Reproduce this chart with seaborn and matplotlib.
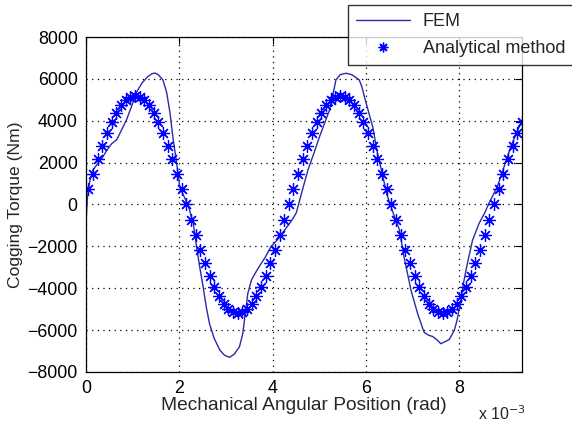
import numpy as np
import pandas as pd
import matplotlib
matplotlib.use("Agg")
import matplotlib.pyplot as plt
from matplotlib.lines import Line2D
import seaborn as sns

sns.set_theme(style="white")
plt.rcParams["font.family"] = ["Liberation Sans", "DejaVu Sans"]

# FEM curve, angle in units of 1e-3 rad
fem_x = [0, 0.03, 0.08, 0.15, 0.25, 0.34, 0.45, 0.55, 0.66, 0.75, 0.87, 0.98,
         1.08, 1.2, 1.32, 1.42, 1.48, 1.55, 1.65, 1.73, 1.8, 1.87, 1.95, 2.01,
         2.1, 2.2, 2.3, 2.37, 2.44, 2.51, 2.58, 2.65, 2.75, 2.87, 2.97, 3.08,
         3.18, 3.29, 3.36, 3.40, 3.47, 3.55, 3.65, 3.72, 3.85, 3.97, 4.1, 4.2,
         4.3, 4.4, 4.51, 4.63, 4.76, 4.88, 5.01, 5.12, 5.22, 5.30, 5.36, 5.45,
         5.58, 5.70, 5.80, 5.86, 5.92, 5.97, 6.05, 6.15, 6.25, 6.35, 6.45, 6.57,
         6.72, 6.82, 6.97, 7.11, 7.25, 7.35, 7.43, 7.52, 7.61, 7.70, 7.79, 7.90,
         7.96, 8.04, 8.10, 8.18, 8.29, 8.43, 8.55, 8.64, 8.82, 8.95, 9.1, 9.2,
         9.33]
fem_y = [-900, 300, 1100, 1650, 1950, 2200, 2600, 2900, 3100, 3500, 4050, 4700,
         5350, 5800, 6100, 6250, 6280, 6200, 5950, 5350, 4400, 3100, 1900, 850,
         400, -100, -900, -2000, -3000, -3900, -4900, -5700, -6400, -6950, -7200, -7300,
         -7150, -6800, -6200, -5500, -4250, -3600, -3200, -2950, -2500, -2000, -1700, -1400,
         -1100, -800, -400, 600, 1650, 2400, 3250, 3900, 4500, 5300, 5950, 6200,
         6270, 6200, 6050, 5950, 5600, 5150, 4500, 3700, 2450, 1500, 500, -300,
         -1200, -2500, -4100, -5200, -6100, -6250, -6300, -6450, -6650, -6550, -6450, -6000,
         -5500, -4550, -3700, -2800, -1700, -900, -400, 50, 850, 1700, 2700, 3250,
         3900]

# analytical method, one point every 0.1e-3 rad starting at 0.05e-3
ana_x = [round(0.05 + 0.1 * k, 2) for k in range(94)]
ana_y = [740, 1470, 2160, 2810, 3400, 3930, 4380, 4730, 4990, 5150, 5200,
         5150, 4990, 4730, 4380, 3930, 3400, 2810, 2160, 1470, 740, 0,
         -740, -1470, -2160, -2810, -3400, -3930, -4380, -4730, -4990, -5150, -5200,
         -5150, -4990, -4730, -4380, -3930, -3400, -2810, -2160, -1470, -740, 0,
         740, 1470, 2160, 2810, 3400, 3930, 4380, 4730, 4990, 5150, 5200,
         5150, 4990, 4730, 4380, 3930, 3400, 2810, 2160, 1470, 740, 0,
         -740, -1470, -2160, -2810, -3400, -3930, -4380, -4730, -4990, -5150, -5200,
         -5150, -4990, -4730, -4380, -3930, -3400, -2810, -2160, -1470, -740, 0,
         740, 1470, 2160, 2810, 3400, 3930]

fem = pd.DataFrame({"x": fem_x, "y": fem_y})
ana = pd.DataFrame({"x": ana_x, "y": ana_y})

fem_color = "#2a2aa8"
ana_color = "#0000ff"
star = (8, 2, 0)

fig = plt.figure(figsize=(5.72, 4.23), dpi=100, facecolor="white")
ax = fig.add_axes([0.1503, 0.1206, 0.7623, 0.7919])

sns.lineplot(data=fem, x="x", y="y", ax=ax, color=fem_color, linewidth=1,
             sort=False, estimator=None)
sns.lineplot(data=ana, x="x", y="y", ax=ax, color=ana_color, linestyle="none",
             marker=star, markersize=9, markeredgewidth=0.9,
             markeredgecolor=ana_color, sort=False, estimator=None)

ax.set_xlim(0, 9.35)
ax.set_ylim(-8000, 8000)
ax.set_xticks([0, 2, 4, 6, 8])
ax.set_yticks(np.arange(-8000, 8001, 2000))
ax.grid(True, color="black", linestyle=(0, (1, 3.5)), linewidth=0.9)
ax.tick_params(direction="in", length=5, width=0.8, top=True, right=True,
               labelsize=12.8, colors="black", pad=6)
for s in ax.spines.values():
    s.set_color("black")
    s.set_linewidth(0.9)

ax.set_xlabel("Mechanical Angular Position (rad)", fontsize=13.8, labelpad=0)
ax.set_ylabel("Cogging Torque (Nm)", fontsize=12.6, labelpad=3)
fig.text(478 / 572, 1 - 420 / 423, "x 10$^{-3}$", fontsize=11.5)

handles = [
    Line2D([], [], color=fem_color, linewidth=1),
    Line2D([], [], color=ana_color, linestyle="none", marker=star,
           markersize=7, markeredgewidth=1.0),
]
leg = fig.legend(handles, ["FEM", "Analytical method"], loc="upper left",
                 bbox_to_anchor=(348 / 572, 1 - 5 / 423), fontsize=13,
                 frameon=True, fancybox=False, edgecolor="black",
                 borderpad=0.45, handlelength=3.0, handletextpad=0.7,
                 labelspacing=0.55, borderaxespad=0)
leg.get_frame().set_linewidth(1.0)

fig.savefig("out.png", dpi=100, facecolor="white")
